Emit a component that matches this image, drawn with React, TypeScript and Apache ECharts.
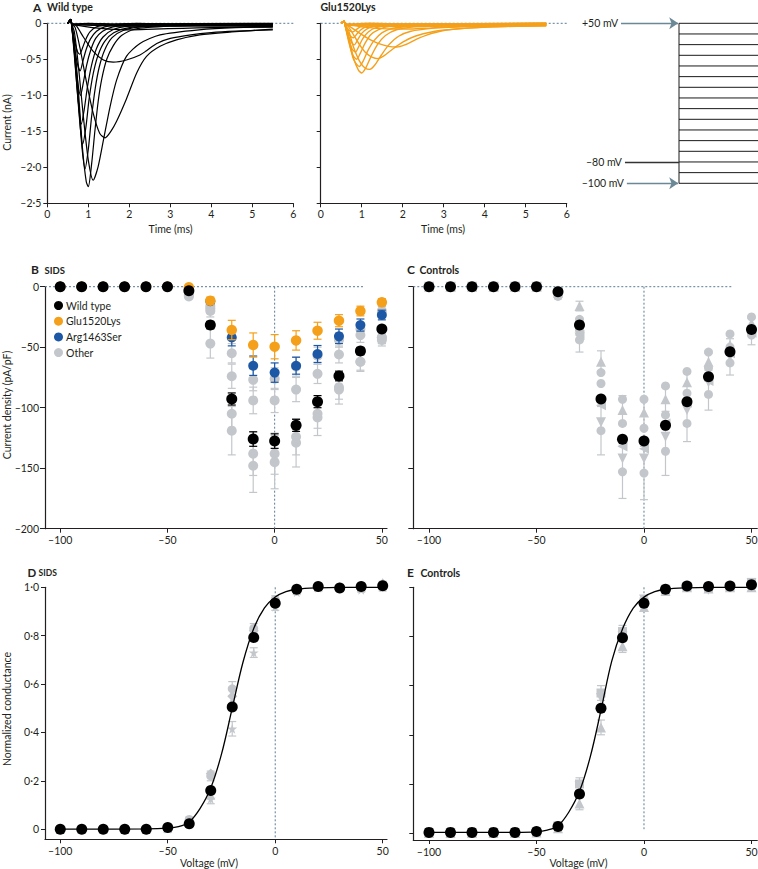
import React, { useEffect, useRef } from 'react';
import * as echarts from 'echarts';

const FONT = 'Lato, "Open Sans", sans-serif';
const INK = '#231f20';
const GRAY = '#c3c7cb';
const BLACK = '#000000';
const ORANGE = '#f5a01a';
const BLUE = '#1d58a6';
const DASH = '#5b7c94';
const ARROW = '#6b8896';

// ---------- Panel A : current traces [time (ms), current (nA)] ----------
const wildTypeTraces: number[][][] = [
  [[0.5,0],[0.54,0.04],[0.57,0.06],[0.6,0],[0.65,-0.01],[1,0],[1.6,-0.01],[2.2,0],[2.9,-0.01],[3.6,-0.005],[4.3,-0.015],[5,-0.01],[5.5,-0.015]],
  [[0.5,0],[0.54,0.03],[0.57,0.05],[0.6,-0.01],[0.66,-0.015],[1.1,-0.005],[1.8,-0.015],[2.5,-0.005],[3.2,-0.02],[4,-0.01],[4.7,-0.02],[5.5,-0.02]],
  [[0.5,0],[0.54,0.04],[0.57,0.05],[0.6,0],[0.66,-0.01],[1.2,-0.01],[2,-0.02],[2.7,-0.01],[3.4,-0.025],[4.2,-0.015],[4.9,-0.03],[5.5,-0.025]],
  [[0.5,0],[0.54,0.03],[0.57,0.05],[0.6,-0.01],[0.66,-0.02],[1.2,-0.02],[1.9,-0.03],[2.6,-0.02],[3.3,-0.03],[4.1,-0.025],[4.8,-0.035],[5.5,-0.03]],
  [[0.5,0],[0.54,0.03],[0.57,0.05],[0.6,-0.01],[0.7,-0.02],[1.2,-0.03],[1.8,-0.04],[2.5,-0.04],[3.2,-0.035],[4,-0.04],[4.8,-0.04],[5.5,-0.045]],
  [[0.5,0],[0.54,0.03],[0.57,0.05],[0.6,-0.01],[0.75,-0.03],[1.1,-0.06],[1.5,-0.08],[2,-0.09],[2.6,-0.08],[3.3,-0.07],[4,-0.06],[4.7,-0.055],[5.5,-0.05]],
  [[0.5,0],[0.54,0.03],[0.57,0.05],[0.6,-0.01],[0.7,-0.03],[0.88,-0.19],[1.12,-0.39],[1.37,-0.51],[1.61,-0.54],[1.93,-0.51],[2.26,-0.44],[2.42,-0.38],[2.67,-0.28],[3.0,-0.21],[3.5,-0.16],[4.0,-0.13],[4.6,-0.11],[5.5,-0.09]],
  [[0.5,0],[0.54,0.03],[0.57,0.05],[0.6,-0.01],[0.68,-0.06],[0.8,-0.35],[0.96,-0.83],[1.12,-1.25],[1.28,-1.53],[1.41,-1.59],[1.55,-1.5],[1.69,-1.36],[1.93,-1.05],[2.18,-0.69],[2.42,-0.46],[2.75,-0.32],[3.15,-0.23],[3.72,-0.16],[4.5,-0.12],[5.5,-0.08]],
  [[0.5,0],[0.54,0.03],[0.57,0.05],[0.6,-0.02],[0.66,-0.12],[0.76,-0.6],[0.88,-1.3],[1.0,-1.9],[1.12,-2.18],[1.24,-1.99],[1.37,-1.62],[1.53,-1.16],[1.69,-0.79],[1.93,-0.46],[2.26,-0.28],[2.75,-0.16],[3.7,-0.09],[4.6,-0.06],[5.5,-0.05]],
  [[0.5,0],[0.54,0.03],[0.57,0.05],[0.6,-0.03],[0.66,-0.25],[0.76,-0.95],[0.86,-1.75],[0.95,-2.2],[1.0,-2.27],[1.08,-1.96],[1.16,-1.5],[1.24,-1.09],[1.33,-0.77],[1.45,-0.5],[1.61,-0.31],[1.81,-0.17],[2.14,-0.08],[3,-0.04],[4,-0.03],[5.5,-0.02]],
  [[0.5,0],[0.54,0.03],[0.57,0.05],[0.6,-0.04],[0.66,-0.35],[0.76,-1.1],[0.85,-1.75],[0.92,-2.02],[1.0,-1.75],[1.08,-1.3],[1.17,-0.9],[1.27,-0.6],[1.4,-0.37],[1.58,-0.2],[1.85,-0.1],[2.3,-0.05],[3.5,-0.03],[5.5,-0.02]],
  [[0.5,0],[0.54,0.03],[0.57,0.05],[0.6,-0.05],[0.66,-0.4],[0.76,-1.15],[0.86,-1.68],[0.94,-1.45],[1.02,-1.05],[1.12,-0.7],[1.24,-0.44],[1.4,-0.25],[1.62,-0.13],[2.0,-0.06],[3,-0.03],[5.5,-0.02]],
  [[0.5,0],[0.54,0.03],[0.57,0.05],[0.6,-0.06],[0.66,-0.45],[0.75,-1.05],[0.83,-1.4],[0.9,-1.2],[0.98,-0.88],[1.08,-0.58],[1.2,-0.35],[1.36,-0.19],[1.6,-0.09],[2.0,-0.04],[3,-0.02],[5.5,-0.01]],
  [[0.5,0],[0.54,0.03],[0.57,0.05],[0.6,-0.06],[0.67,-0.45],[0.75,-0.85],[0.81,-1.0],[0.88,-0.82],[0.96,-0.58],[1.06,-0.37],[1.18,-0.21],[1.35,-0.11],[1.6,-0.05],[2.1,-0.02],[5.5,-0.01]],
  [[0.5,0],[0.54,0.03],[0.57,0.05],[0.6,-0.06],[0.68,-0.4],[0.75,-0.6],[0.8,-0.66],[0.87,-0.52],[0.95,-0.36],[1.05,-0.22],[1.2,-0.11],[1.4,-0.05],[1.8,-0.02],[5.5,-0.01]],
  [[0.5,0],[0.54,0.03],[0.57,0.05],[0.6,-0.05],[0.68,-0.28],[0.74,-0.4],[0.79,-0.43],[0.86,-0.34],[0.94,-0.22],[1.04,-0.12],[1.2,-0.05],[1.5,-0.02],[2,-0.01],[5.5,0]],
];

const gluTraces: number[][][] = [
  [[0.5,0],[0.54,0.02],[0.57,0.03],[0.6,-0.01],[0.66,-0.01],[1.2,0],[2,-0.01],[2.8,-0.005],[3.6,-0.015],[4.5,-0.01],[5.5,-0.015]],
  [[0.5,0],[0.54,0.02],[0.57,0.03],[0.6,-0.01],[0.66,-0.015],[1.3,-0.01],[2.1,-0.02],[2.9,-0.01],[3.7,-0.02],[4.6,-0.015],[5.5,-0.02]],
  [[0.5,0],[0.54,0.02],[0.57,0.03],[0.6,-0.01],[0.68,-0.02],[1.3,-0.015],[2.2,-0.025],[3.0,-0.02],[3.8,-0.025],[4.7,-0.02],[5.5,-0.025]],
  [[0.5,0],[0.54,0.02],[0.57,0.03],[0.6,-0.01],[0.7,-0.02],[1.4,-0.025],[2.2,-0.03],[3.0,-0.025],[3.9,-0.03],[4.7,-0.025],[5.5,-0.03]],
  [[0.5,0],[0.54,0.02],[0.57,0.03],[0.6,-0.01],[0.75,-0.025],[1.3,-0.04],[2.0,-0.045],[2.8,-0.04],[3.6,-0.035],[4.5,-0.035],[5.5,-0.03]],
  [[0.5,0],[0.54,0.02],[0.57,0.03],[0.6,-0.01],[0.8,-0.03],[1.2,-0.06],[1.7,-0.08],[2.2,-0.08],[2.8,-0.06],[3.5,-0.05],[4.3,-0.04],[5.5,-0.03]],
  [[0.5,0],[0.54,0.02],[0.57,0.03],[0.6,-0.01],[0.7,-0.04],[0.9,-0.12],[1.12,-0.2],[1.4,-0.28],[1.65,-0.32],[1.85,-0.33],[2.05,-0.3],[2.34,-0.22],[2.6,-0.16],[3.0,-0.1],[3.5,-0.07],[4.2,-0.05],[5.5,-0.03]],
  [[0.5,0],[0.54,0.02],[0.57,0.03],[0.6,-0.01],[0.68,-0.05],[0.8,-0.16],[0.95,-0.3],[1.1,-0.41],[1.25,-0.47],[1.4,-0.49],[1.55,-0.45],[1.75,-0.36],[2.0,-0.26],[2.3,-0.18],[2.7,-0.12],[3.3,-0.08],[4.2,-0.05],[5.5,-0.03]],
  [[0.5,0],[0.54,0.02],[0.57,0.03],[0.6,-0.02],[0.68,-0.1],[0.8,-0.33],[0.95,-0.53],[1.08,-0.62],[1.2,-0.64],[1.32,-0.58],[1.48,-0.44],[1.66,-0.3],[1.9,-0.18],[2.2,-0.11],[2.7,-0.07],[3.5,-0.04],[5.5,-0.02]],
  [[0.5,0],[0.54,0.02],[0.57,0.03],[0.6,-0.03],[0.68,-0.18],[0.8,-0.48],[0.92,-0.65],[1.0,-0.69],[1.1,-0.62],[1.22,-0.47],[1.38,-0.3],[1.58,-0.17],[1.85,-0.09],[2.3,-0.05],[3.2,-0.03],[5.5,-0.02]],
  [[0.5,0],[0.54,0.02],[0.57,0.03],[0.6,-0.03],[0.68,-0.22],[0.8,-0.5],[0.94,-0.6],[1.04,-0.52],[1.15,-0.38],[1.3,-0.24],[1.5,-0.13],[1.75,-0.07],[2.2,-0.04],[3.2,-0.02],[5.5,-0.01]],
  [[0.5,0],[0.54,0.02],[0.57,0.03],[0.6,-0.04],[0.68,-0.25],[0.78,-0.44],[0.88,-0.5],[0.97,-0.41],[1.08,-0.28],[1.22,-0.16],[1.4,-0.09],[1.7,-0.04],[2.3,-0.02],[5.5,-0.01]],
  [[0.5,0],[0.54,0.02],[0.57,0.03],[0.6,-0.04],[0.68,-0.22],[0.77,-0.36],[0.85,-0.4],[0.93,-0.32],[1.03,-0.21],[1.16,-0.12],[1.35,-0.06],[1.7,-0.03],[5.5,-0.01]],
  [[0.5,0],[0.54,0.02],[0.57,0.03],[0.6,-0.04],[0.68,-0.18],[0.76,-0.27],[0.82,-0.3],[0.9,-0.23],[1.0,-0.14],[1.12,-0.08],[1.3,-0.04],[1.7,-0.02],[5.5,0]],
  [[0.5,0],[0.54,0.02],[0.57,0.03],[0.6,-0.04],[0.68,-0.14],[0.75,-0.19],[0.8,-0.2],[0.88,-0.15],[0.98,-0.09],[1.1,-0.05],[1.3,-0.02],[5.5,0]],
  [[0.5,0],[0.54,0.02],[0.57,0.03],[0.6,-0.03],[0.68,-0.09],[0.78,-0.12],[0.86,-0.09],[0.96,-0.05],[1.1,-0.02],[1.4,-0.01],[5.5,0]],
];

// Voltage protocol levels (mV)
const protocolLevels = [50, 40, 30, 20, 10, 0, -10, -20, -30, -40, -50, -60, -70, -80, -90, -100];

// ---------- Panels B–E : voltages ----------
const voltages = [-100, -90, -80, -70, -60, -50, -40, -30, -20, -10, 0, 10, 20, 30, 40, 50];

// Panel B (SIDS) current density, pA/pF
const bWildType = [0, 0, 0, 0, 0, 0, -3.3, -31.7, -92.8, -125.9, -127.6, -114.6, -95, -73.8, -53.2, -35];
const bWildTypeErr = [0, 0, 0, 0, 0, 0, 1, 3, 5, 6, 6, 5, 5, 4, 3, 2];
const bGlu = [0, 0, 0, 0, 0, 0, -0.5, -11.6, -35.8, -48.2, -49.6, -44.4, -36.4, -28.1, -20.1, -12.9];
const bGluErr = [0, 0, 0, 0, 0, 0, 1, 3, 8, 10, 10, 8, 7, 5, 4, 3];
const bArg = [0, 0, 0, 0, 0, 0, -2, -12, -41.9, -65.3, -71, -65.3, -55.6, -41, -31.7, -23.4];
const bArgErr = [0, 0, 0, 0, 0, 0, 1, 2, 7, 8, 8, 7, 7, 6, 5, 4];
const bOther1 = [0, 0, 0, 0, 0, 0, -5, -16, -55, -77, -76, -66, -57, -44, -35, -20];
const bOther1Err = [0, 0, 0, 0, 0, 0, 1, 3, 8, 9, 9, 8, 7, 6, 5, 4];
const bOther2 = [0, 0, 0, 0, 0, 0, -7, -18, -74, -94, -94, -85, -72, -56, -40, -42];
const bOther2Err = [0, 0, 0, 0, 0, 0, 1, 4, 10, 11, 10, 10, 8, 7, 6, 5];
const bOther3 = [0, 0, 0, 0, 0, 0, -6, -20, -105, -138, -138, -124, -105, -83, -62, -44];
const bOther3Err = [0, 0, 0, 0, 0, 0, 2, 5, 14, 18, 17, 15, 12, 10, 7, 5];
const bOther4 = [0, 0, 0, 0, 0, 0, -8, -47, -119, -148, -145, -129, -108, -85, -62, -42];
const bOther4Err = [0, 0, 0, 0, 0, 0, 2, 12, 20, 22, 22, 20, 15, 12, 8, 5];

// Panel C (controls)
const cWildType = [0, 0, 0, 0, 0, 0, -4.1, -31.7, -92.8, -126, -127.6, -114.6, -95, -74.4, -53.7, -35.3];
const cCircle1 = [0, 0, 0, 0, 0, 0, -3, -27, -71, -93, -93, -82, -70, -54, -39, -25];
const cTriUp = [0, 0, 0, 0, 0, 0, -5, -16, -62, -102, -104, -93, -79, -62, -48, -30];
const cTriUpErr = [0, 0, 0, 0, 0, 0, 1, 4, 9, 12, 12, 10, 9, 7, 5, 4];
const cCircle2 = [0, 0, 0, 0, 0, 0, -6, -36, -80, -113, -117, -106, -88, -67, -50, -36];
const cTriLeft = [0, 0, 0, 0, 0, 0, -4, -40, -98, -132, -134, -113, -96, -78, -55, -38];
const cTriDown = [0, 0, 0, 0, 0, 0, -7, -42, -112, -142, -142, -124, -102, -79, -58, -40];
const cCircle3 = [0, 0, 0, 0, 0, 0, -8, -44, -119, -153, -154, -136, -113, -89, -63, -40];
const cCircle3Err = [0, 0, 0, 0, 0, 0, 2, 10, 20, 22, 22, 20, 15, 13, 10, 8];

// Panel D (SIDS) normalized conductance
const dWildType = [0, 0, 0, 0, 0, 0.007, 0.022, 0.16, 0.505, 0.792, 0.934, 0.992, 1.003, 0.997, 1.003, 1.006];
const dOtherCircle = [0, 0, 0, 0, 0, 0.005, 0.04, 0.22, 0.58, 0.83, 0.95, 0.99, 1.0, 1.0, 0.995, 1.01];
const dOtherDiamond = [0, 0, 0, 0, 0, 0.004, 0.035, 0.23, 0.55, 0.82, 0.93, 0.985, 1.0, 0.998, 1.0, 1.015];
const dOtherStar = [0, 0, 0, 0, 0, 0.002, 0.02, 0.125, 0.415, 0.73, 0.92, 0.98, 0.998, 1.0, 0.99, 1.0];
const dOtherTriangle = [0, 0, 0, 0, 0, 0.003, 0.03, 0.14, 0.53, 0.8, 0.95, 0.995, 1.0, 1.0, 1.0, 1.02];
const dOtherErr = [0, 0, 0, 0, 0, 0.005, 0.01, 0.02, 0.03, 0.02, 0.015, 0.01, 0.01, 0.01, 0.01, 0.015];
const dFitVoltage = [-100, -60, -50, -45, -40, -35, -30, -25, -20, -15, -10, -5, 0, 5, 10, 20, 30, 50];
const dFitValue = [0, 0.001, 0.004, 0.01, 0.03, 0.085, 0.17, 0.31, 0.5, 0.69, 0.83, 0.915, 0.96, 0.982, 0.992, 0.998, 1, 1];

// Panel E (controls)
const eWildType = [0.003, 0.003, 0.003, 0.003, 0.003, 0.007, 0.027, 0.159, 0.508, 0.795, 0.935, 0.992, 1.005, 1.003, 1.005, 1.01];
const eOtherRect = [0, 0, 0, 0, 0, 0.005, 0.03, 0.2, 0.57, 0.82, 0.94, 0.99, 1.0, 1.0, 1.0, 1.02];
const eOtherTriangle = [0, 0, 0, 0, 0, 0.003, 0.02, 0.12, 0.43, 0.76, 0.92, 0.985, 1.0, 0.995, 1.0, 1.0];
const eOtherTriDown = [0, 0, 0, 0, 0, 0.004, 0.025, 0.19, 0.55, 0.8, 0.95, 0.99, 1.0, 0.99, 1.0, 1.015];
const eOtherErr = [0, 0, 0, 0, 0, 0.005, 0.01, 0.025, 0.03, 0.025, 0.015, 0.01, 0.01, 0.01, 0.01, 0.015];
const eFitVoltage = [-100, -60, -50, -45, -40, -35, -30, -25, -20, -15, -10, -5, 0, 5, 10, 20, 30, 50];
const eFitValue = [0.003, 0.003, 0.005, 0.012, 0.03, 0.085, 0.17, 0.31, 0.5, 0.7, 0.83, 0.915, 0.96, 0.982, 0.992, 0.998, 1, 1];

const xTicksV = [-100, -50, 0, 50];
const yTicksG = [0, 0.2, 0.4, 0.6, 0.8, 1];

const STAR = 'path://M50,0 L61,35 L98,35 L68,57 L79,91 L50,70 L21,91 L32,57 L2,35 L39,35 Z';

const fmtInt = (v: number) => (v < 0 ? '\u2013' + Math.abs(v) : String(v));
const fmtDec = (v: number) => {
  if (Math.abs(v) < 1e-9) return '0';
  const s = Math.abs(v).toFixed(1).replace('.', '\u00b7');
  return (v < 0 ? '\u2013' : '') + s;
};

const pairs = (vals: number[]) => voltages.map((v, i) => [v, vals[i]]);
const errData = (vals: number[], errs: number[]) =>
  voltages.map((v, i) => [v, vals[i] - errs[i], vals[i] + errs[i], errs[i]]).filter((d) => d[3] > 0);

function errSeries(idx: number, data: number[][], color: string, z: number) {
  return {
    type: 'custom',
    xAxisIndex: idx,
    yAxisIndex: idx,
    data,
    z,
    silent: true,
    clip: false,
    encode: { x: 0, y: [1, 2] },
    renderItem: (params: any, api: any) => {
      const x = api.value(0);
      const lo = api.coord([x, api.value(1)]);
      const hi = api.coord([x, api.value(2)]);
      const cw = 4;
      const st = { stroke: color, lineWidth: 1.2 };
      return {
        type: 'group',
        children: [
          { type: 'line', shape: { x1: lo[0], y1: lo[1], x2: hi[0], y2: hi[1] }, style: st },
          { type: 'line', shape: { x1: lo[0] - cw, y1: lo[1], x2: lo[0] + cw, y2: lo[1] }, style: st },
          { type: 'line', shape: { x1: hi[0] - cw, y1: hi[1], x2: hi[0] + cw, y2: hi[1] }, style: st },
        ],
      };
    },
  };
}

function scat(name: string, idx: number, vals: number[], color: string, size: number, z: number, symbol = 'circle', rotate = 0) {
  return {
    name,
    type: 'scatter',
    xAxisIndex: idx,
    yAxisIndex: idx,
    data: pairs(vals),
    symbol,
    symbolSize: size,
    symbolRotate: rotate,
    itemStyle: { color, opacity: 1 },
    z,
    clip: false,
    silent: true,
  };
}

function dashed(idx: number, data: number[][]) {
  return {
    type: 'line',
    xAxisIndex: idx,
    yAxisIndex: idx,
    data,
    symbol: 'none',
    lineStyle: { color: DASH, width: 1, type: [2, 2] },
    z: 1,
    silent: true,
    clip: false,
  };
}

function traceSeries(idx: number, data: number[][], color: string, width: number) {
  return {
    type: 'line',
    xAxisIndex: idx,
    yAxisIndex: idx,
    data,
    symbol: 'none',
    showSymbol: false,
    smooth: 0.25,
    lineStyle: { color, width },
    z: 3,
    silent: true,
    clip: false,
  };
}

const axisLine = { show: true, onZero: false, lineStyle: { color: INK, width: 1.2 } };
const axisTick = { show: true, length: 4, lineStyle: { color: INK, width: 1 } };
const labelStyle = { fontSize: 10.5, color: INK, fontFamily: FONT };

function xAxisVolt(idx: number, min: number, max: number) {
  return {
    gridIndex: idx, type: 'value', min, max,
    axisLine, splitLine: { show: false },
    axisTick: { ...axisTick, customValues: xTicksV },
    axisLabel: { ...labelStyle, margin: 6, customValues: xTicksV, formatter: fmtInt },
  };
}

function protoMarkLine(fromX: number, toX: number, level: number, text: string, color: string, arrow: boolean, width: number) {
  return {
    type: 'line',
    xAxisIndex: 2,
    yAxisIndex: 2,
    data: [],
    silent: true,
    markLine: {
      silent: true,
      animation: false,
      symbol: arrow ? ['none', 'arrow'] : ['none', 'none'],
      symbolSize: 9,
      lineStyle: { color, width, type: 'solid' },
      label: { show: true, position: 'start', formatter: text, color: INK, fontSize: 10.5, fontFamily: FONT, distance: 3 },
      emphasis: { disabled: true },
      data: [[{ coord: [fromX, level] }, { coord: [toX, level] }]],
    },
  };
}

function buildOption() {
  const T = (x: number, y: number, text: string, size: number, weight: any = 'normal', rot = 0, align = 'left') => ({
    type: 'text', x, y, rotation: rot, silent: true,
    style: { text, fontSize: size, fontWeight: weight, fontFamily: FONT, fill: INK, textAlign: align, textVerticalAlign: 'middle' },
  });

  const grids = [
    { left: 47.3, top: 23.3, width: 246, height: 180 },
    { left: 320.7, top: 23.3, width: 246, height: 180 },
    { left: 584.2, top: 23.3, width: 173.8, height: 160 },
    { left: 45, top: 286.7, width: 342, height: 242 },
    { left: 413.3, top: 286.7, width: 344, height: 242 },
    { left: 45, top: 587.3, width: 342, height: 252 },
    { left: 413.3, top: 587.3, width: 344, height: 252.7 },
  ].map((g) => ({ ...g, containLabel: false, outerBoundsMode: 'none' }));

  const xAxis: any[] = [
    { gridIndex: 0, type: 'value', min: 0, max: 6, interval: 1, axisLine, axisTick, splitLine: { show: false }, axisLabel: { ...labelStyle, margin: 5 } },
    { gridIndex: 1, type: 'value', min: 0, max: 6, interval: 1, axisLine, axisTick, splitLine: { show: false }, axisLabel: { ...labelStyle, margin: 5 } },
    { gridIndex: 2, type: 'value', min: -1.2, max: 1, show: false },
    xAxisVolt(3, -107.1, 52.4),
    xAxisVolt(4, -107.3, 52.7),
    xAxisVolt(5, -107.1, 52.0),
    xAxisVolt(6, -107.3, 52.7),
  ];
  const yAxis: any[] = [
    { gridIndex: 0, type: 'value', min: -2.5, max: 0, interval: 0.5, axisLine, axisTick, splitLine: { show: false }, axisLabel: { ...labelStyle, margin: 6, formatter: fmtDec } },
    { gridIndex: 1, type: 'value', min: -2.5, max: 0, interval: 0.5, axisLine, axisTick, splitLine: { show: false }, axisLabel: { show: false } },
    { gridIndex: 2, type: 'value', min: -100, max: 50, show: false },
    { gridIndex: 3, type: 'value', min: -200, max: 0, interval: 50, axisLine, axisTick: { ...axisTick, length: 5 }, splitLine: { show: false }, axisLabel: { ...labelStyle, margin: 6, formatter: fmtInt } },
    { gridIndex: 4, type: 'value', min: -200, max: 0, interval: 50, axisLine, axisTick: { ...axisTick, length: 5 }, splitLine: { show: false }, axisLabel: { show: false } },
    { gridIndex: 5, type: 'value', min: -0.042, max: 1, axisLine, splitLine: { show: false },
      axisTick: { ...axisTick, customValues: yTicksG }, axisLabel: { ...labelStyle, margin: 6, customValues: yTicksG, formatter: fmtDec } },
    { gridIndex: 6, type: 'value', min: -0.028, max: 1, axisLine, splitLine: { show: false },
      axisTick: { ...axisTick, customValues: yTicksG }, axisLabel: { show: false, customValues: yTicksG } },
  ];

  const series: any[] = [];

  // Panel A
  series.push(dashed(0, [[0, 0], [6, 0]]));
  series.push(dashed(1, [[0, 0], [6, 0]]));
  wildTypeTraces.forEach((tr) => series.push(traceSeries(0, tr, BLACK, 1.2)));
  gluTraces.forEach((tr) => series.push(traceSeries(1, tr, ORANGE, 1.4)));

  // Voltage protocol
  protocolLevels.forEach((lv) => {
    series.push({
      type: 'line', xAxisIndex: 2, yAxisIndex: 2, data: [[0, lv], [1, lv]], symbol: 'none',
      lineStyle: { color: '#1a1a1a', width: 1 }, silent: true, clip: false,
    });
  });
  series.push({
    type: 'line', xAxisIndex: 2, yAxisIndex: 2,
    data: [[0, protocolLevels[protocolLevels.length - 1]], [0, protocolLevels[0]]], symbol: 'none',
    lineStyle: { color: '#1a1a1a', width: 1 }, silent: true, clip: false,
  });
  series.push(protoMarkLine(-0.734, -0.01, 50, '+50 mV', ARROW, true, 1.4));
  series.push(protoMarkLine(-0.684, 0, -80, '\u201380 mV', '#333333', false, 1.3));
  series.push(protoMarkLine(-0.66, -0.01, -100, '\u2013100 mV', ARROW, true, 1.4));

  // Panel B
  series.push(dashed(3, [[-107.1, 0], [41.5, 0]]));
  series.push(dashed(3, [[0, 0], [0, -200]]));
  [[bOther1, bOther1Err], [bOther2, bOther2Err], [bOther3, bOther3Err], [bOther4, bOther4Err]].forEach(([v, e]) => {
    series.push(errSeries(3, errData(v, e), GRAY, 2));
    series.push(scat('Other', 3, v, GRAY, 10, 2));
  });
  series.push(errSeries(3, errData(bArg, bArgErr), BLUE, 3));
  series.push(scat('Arg1463Ser', 3, bArg, BLUE, 10, 3));
  series.push(errSeries(3, errData(bGlu, bGluErr), ORANGE, 4));
  series.push(scat('Glu1520Lys', 3, bGlu, ORANGE, 10.5, 4));
  series.push(errSeries(3, errData(bWildType, bWildTypeErr), BLACK, 5));
  series.push(scat('Wild type', 3, bWildType, BLACK, 11, 5));

  // Panel C
  series.push(dashed(4, [[-107.3, 0], [41.5, 0]]));
  series.push(dashed(4, [[0, 0], [0, -200]]));
  series.push(errSeries(4, errData(cTriUp, cTriUpErr), GRAY, 2));
  series.push(errSeries(4, errData(cCircle3, cCircle3Err), GRAY, 2));
  series.push(scat('c1', 4, cCircle1, GRAY, 9, 2));
  series.push(scat('c2', 4, cTriUp, GRAY, 10, 2, 'triangle'));
  series.push(scat('c3', 4, cCircle2, GRAY, 9, 2));
  series.push(scat('c4', 4, cTriLeft, GRAY, 10, 2, 'triangle', 90));
  series.push(scat('c5', 4, cTriDown, GRAY, 10, 2, 'triangle', 180));
  series.push(scat('c6', 4, cCircle3, GRAY, 9, 2));
  series.push(scat('c wild type', 4, cWildType, BLACK, 11, 5));

  // Panel D
  series.push(dashed(5, [[0, 1], [0, -0.042]]));
  series.push(errSeries(5, errData(dOtherCircle, dOtherErr), GRAY, 2));
  series.push(errSeries(5, errData(dOtherStar, dOtherErr), GRAY, 2));
  series.push(scat('d1', 5, dOtherCircle, GRAY, 9, 2));
  series.push(scat('d2', 5, dOtherDiamond, GRAY, 10, 2, 'diamond'));
  series.push(scat('d3', 5, dOtherStar, GRAY, 10, 2, STAR));
  series.push(scat('d4', 5, dOtherTriangle, GRAY, 9, 2, 'triangle'));
  series.push({
    type: 'line', xAxisIndex: 5, yAxisIndex: 5, data: dFitVoltage.map((v, i) => [v, dFitValue[i]]),
    symbol: 'none', smooth: 0.35, lineStyle: { color: BLACK, width: 1.3 }, z: 4, silent: true, clip: false,
  });
  series.push(scat('d wild type', 5, dWildType, BLACK, 11, 5));

  // Panel E
  series.push(dashed(6, [[0, 1], [0, 0.016]]));
  series.push(errSeries(6, errData(eOtherRect, eOtherErr), GRAY, 2));
  series.push(errSeries(6, errData(eOtherTriangle, eOtherErr), GRAY, 2));
  series.push(scat('e1', 6, eOtherRect, GRAY, 9, 2, 'rect'));
  series.push(scat('e2', 6, eOtherTriangle, GRAY, 10, 2, 'triangle'));
  series.push(scat('e3', 6, eOtherTriDown, GRAY, 10, 2, 'triangle', 180));
  series.push({
    type: 'line', xAxisIndex: 6, yAxisIndex: 6, data: eFitVoltage.map((v, i) => [v, eFitValue[i]]),
    symbol: 'none', smooth: 0.35, lineStyle: { color: BLACK, width: 1.3 }, z: 4, silent: true, clip: false,
  });
  series.push(scat('e wild type', 6, eWildType, BLACK, 11, 5));

  return {
    animation: false,
    backgroundColor: '#ffffff',
    textStyle: { fontFamily: FONT },
    grid: grids,
    xAxis,
    yAxis,
    legend: {
      data: ['Wild type', 'Glu1520Lys', 'Arg1463Ser', 'Other'],
      orient: 'vertical',
      left: 54,
      top: 300,
      padding: 0,
      itemWidth: 9,
      itemHeight: 9,
      itemGap: 4.7,
      icon: 'circle',
      selectedMode: false,
      textStyle: { fontSize: 10.5, color: INK, fontFamily: FONT, padding: [0, 0, 0, -2] },
    },
    series,
    graphic: [
      T(33, 7, 'A', 12, 'bold'),
      T(47, 7, 'Wild type', 10.5, 'bold'),
      T(320.5, 7, 'Glu1520Lys', 10.5, 'bold'),
      T(31, 269.5, 'B', 12, 'bold'),
      T(44.5, 270, 'SIDS', 9.5, 'bold'),
      T(407, 269.5, 'C', 12, 'bold'),
      T(419.5, 270, 'Controls', 10.5, 'bold'),
      T(27.5, 572, 'D', 11.5, 'bold'),
      T(38.5, 572.5, 'SIDS', 8.5, 'bold'),
      T(407, 572, 'E', 12, 'bold'),
      T(420.5, 572.5, 'Controls', 10.5, 'bold'),
      T(6.5, 122.5, 'Current (nA)', 10.5, 'normal', Math.PI / 2, 'center'),
      T(170.5, 229, 'Time (ms)', 10.5, 'normal', 0, 'center'),
      T(443, 229, 'Time (ms)', 10.5, 'normal', 0, 'center'),
      T(6.5, 405, 'Current density (pA/pF)', 10.5, 'normal', Math.PI / 2, 'center'),
      T(6.5, 709, 'Normalized conductance', 10.5, 'normal', Math.PI / 2, 'center'),
      T(209, 863, 'Voltage (mV)', 10.5, 'normal', 0, 'center'),
      T(578.5, 863, 'Voltage (mV)', 10.5, 'normal', 0, 'center'),
    ],
  };
}

export default function App() {
  const ref = useRef<HTMLDivElement>(null);
  useEffect(() => {
    if (!ref.current) return;
    const chart = echarts.init(ref.current, undefined, { renderer: 'svg' });
    chart.setOption(buildOption() as any);
    return () => chart.dispose();
  }, []);
  return (
    <div
      ref={ref}
      style={{ position: 'absolute', left: 0, top: 0, width: 758, height: 869, background: '#fff' }}
    />
  );
}
